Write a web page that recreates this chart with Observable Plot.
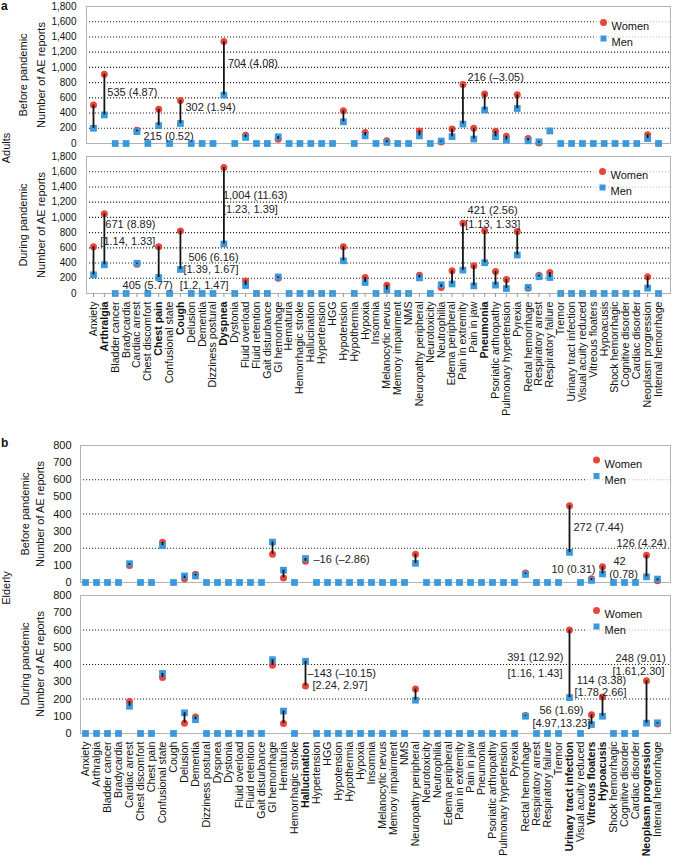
<!DOCTYPE html>
<html><head><meta charset="utf-8">
<script src="https://cdn.jsdelivr.net/npm/d3@7"></script>
<script src="https://cdn.jsdelivr.net/npm/@observablehq/plot@0.6"></script>
<style>
body{margin:0;background:#fff;}
#wrap{position:relative;width:673px;height:858px;font-family:"Liberation Sans",Arial,sans-serif;color:#111;overflow:hidden;background:#fff}
.p{position:absolute;left:0}
.lab{position:absolute;font-size:11px;white-space:nowrap;line-height:1}
.rot{transform:translate(-50%,-50%) rotate(-90deg)}
</style></head><body><div id="wrap"></div>
<script>
const n = null;
const cats = ["Anxiety","Arthralgia","Bladder cancer","Bradycardia","Cardiac arrest","Chest discomfort","Chest pain","Confusional state","Cough","Delusion","Dementia","Dizziness postural","Dyspnea","Dystonia","Fluid overload","Fluid retention","Gait disturbance","GI hemorrhage","Hematuria","Hemorrhagic stroke","Hallucination","Hypertension","HGG","Hypotension","Hypothermia","Hypoxia","Insomnia","Melanocytic nevus","Memory impairment","NMS","Neuropathy peripheral","Neurotoxicity","Neutrophilia","Edema peripheral","Pain in extremity","Pain in jaw","Pneumonia","Psoriatic arthropathy","Pulmonary hypertension","Pyrexia","Rectal hemorrhage","Respiratory arrest","Respiratory failure","Tremor","Urinary tract infection","Visual acuity reduced","Vitreous floaters","Hypoacusis","Shock hemorrhagic","Cognitive disorder","Cardiac disorder","Neoplasm progression","Internal hemorrhage"];

const boldA = ["Arthralgia","Chest pain","Cough","Dyspnea","Pneumonia"];
const boldB = ["Hallucination","Urinary tract infection","Vitreous floaters","Hypoacusis","Neoplasm progression"];

// Panel a (adults)
const womenBeforeA = [505,910,n,n,175,n,450,n,565,n, n,n,1340,n,110,n,n,57,n,n, n,n,n,430,n,145,n,35,n,n, 165,n,20,190,775,200,650,160,95,640, 65,8,n,n,n,n,n,n,n,n, n,115,n];
const menBeforeA   = [200,375,0,0,155,0,235,0,263,0, 0,0,636,0,80,0,0,88,0,0, 0,0,0,285,0,100,0,13,0,0, 100,0,32,90,255,58,440,90,45,460, 35,22,165,0,0,0,0,0,0,0, 0,65,0];
const womenDuringA = [615,1048,n,n,385,n,615,n,822,n, n,n,1655,n,165,n,n,200,n,n, n,n,n,615,n,210,n,110,n,n, 240,n,80,300,922,365,825,290,185,815, 70,240,275,n,n,n,n,n,n,n, n,220,n];
const menDuringA   = [245,377,0,0,398,0,210,0,316,0, 0,0,651,0,105,0,0,218,0,0, 0,0,0,430,0,145,0,45,0,0, 205,0,115,125,307,100,404,110,65,505, 80,220,210,0,0,0,0,0,0,0, 0,70,0];

// Panel b (elderly)
const womenBeforeB = [n,n,n,n,100,n,n,235,n,22, 48,n,n,n,n,n,n,165,27,n, 124,n,n,n,n,n,n,n,n,n, 165,n,n,n,n,n,n,n,n,n, 55,n,n,n,448,n,22,92,n,n, n,159,10];
const menBeforeB   = [0,0,0,0,110,0,0,215,0,38, 38,0,0,0,0,0,0,236,72,0, 140,0,0,0,0,0,0,0,0,0, 112,0,0,0,0,0,0,0,0,0, 47,0,0,0,176,0,12,50,0,0, 0,33,20];
const womenDuringB = [n,n,n,n,185,n,n,325,n,60, 95,n,n,n,n,n,n,395,58,n, 276,n,n,n,n,n,n,n,n,n, 258,n,n,n,n,n,n,n,n,n, 105,n,n,n,600,n,108,212,n,n, n,306,55];
const menDuringB   = [0,0,0,0,158,0,0,348,0,120, 80,0,0,0,0,0,0,428,130,0, 419,0,0,0,0,0,0,0,0,0, 193,0,0,0,0,0,0,0,0,0, 100,0,0,0,208,0,52,100,0,0, 0,60,62];

const ticksA = [0,200,400,600,800,1000,1200,1400,1600,1800];
const gridA = [200,400,600,800,1000,1200,1400,1600];
const ticksB = [0,100,200,300,400,500,600,700,800];
const gridB = [200,400,600];

// annotation texts, anchored to a category and a value
const notesA1 = [
  {cat:"Arthralgia", v:670, text:"535 (4.87)", anchor:"start", dx:3},
  {cat:"Chest pain", v:92, text:"215 (0.52)", anchor:"middle", dx:10},
  {cat:"Cough", v:473, text:"302 (1.94)", anchor:"start", dx:5},
  {cat:"Dyspnea", v:1051, text:"704 (4.08)", anchor:"start", dx:4},
  {cat:"Pneumonia", v:871, text:"216 (\u20133.05)", anchor:"middle", dx:11}
];
const notesA2 = [
  {cat:"Arthralgia", v:903, text:"671 (8.89)", anchor:"start", dx:1},
  {cat:"Arthralgia", v:680, text:"[1.14, 1.33]", anchor:"start", dx:-4},
  {cat:"Chest pain", v:101, text:"405 (5.77)", anchor:"end", dx:14},
  {cat:"Chest pain", v:101, text:"[1.2, 1.47]", anchor:"start", dx:21},
  {cat:"Cough", v:478, text:"506 (6.16)", anchor:"start", dx:8},
  {cat:"Cough", v:320, text:"[1.39, 1.67]", anchor:"start", dx:3},
  {cat:"Dyspnea", v:1284, text:"1,004 (11.63)", anchor:"start", dx:-1},
  {cat:"Dyspnea", v:1100, text:"[1.23, 1.39]", anchor:"start", dx:-1},
  {cat:"Pneumonia", v:1090, text:"421 (2.56)", anchor:"middle", dx:8},
  {cat:"Pneumonia", v:913, text:"[1.13, 1.33]", anchor:"middle", dx:8}
];
const notesB1 = [
  {cat:"Hallucination", v:135, text:"\u201316 (\u20132.86)", anchor:"start", dx:8},
  {cat:"Urinary tract infection", v:322, text:"272 (7.44)", anchor:"start", dx:4},
  {cat:"Vitreous floaters", v:77, text:"10 (0.31)", anchor:"end", dx:4},
  {cat:"Hypoacusis", v:120, text:"42", anchor:"middle", dx:17},
  {cat:"Hypoacusis", v:46, text:"(0.78)", anchor:"middle", dx:21},
  {cat:"Neoplasm progression", v:228, text:"126 (4.24)", anchor:"middle", dx:-5}
];
const notesB2 = [
  {cat:"Hallucination", v:346, text:"\u2013143 (\u201310.15)", anchor:"start", dx:2},
  {cat:"Hallucination", v:276, text:"[2.24, 2.97]", anchor:"start", dx:7},
  {cat:"Urinary tract infection", v:441, text:"391 (12.92)", anchor:"end", dx:-6},
  {cat:"Urinary tract infection", v:348, text:"[1.16, 1.43]", anchor:"end", dx:-7},
  {cat:"Hypoacusis", v:306, text:"114 (3.38)", anchor:"middle", dx:-1},
  {cat:"Hypoacusis", v:235, text:"[1.78,2.66]", anchor:"middle", dx:-2},
  {cat:"Vitreous floaters", v:132, text:"56 (1.69)", anchor:"end", dx:-8},
  {cat:"Vitreous floaters", v:60, text:"[4.97,13.23]", anchor:"end", dx:-1},
  {cat:"Neoplasm progression", v:437, text:"248 (9.01)", anchor:"middle", dx:-6},
  {cat:"Neoplasm progression", v:360, text:"[1.61,2.30]", anchor:"middle", dx:-8}
];

const RED = "#e8463b", BLUE = "#3a98db";
const fmt = d3.format(",");

function panel(o) {
  const rows = cats.map((c, i) => ({cat: c, w: o.women[i], m: o.men[i]}));
  const paired = rows.filter(d => d.w != null);
  const legendBox = (index, scales, values, dims) => {
    const right = dims.width - dims.marginRight;
    const x0 = right + o.legDx - 9;
    return d3.create("svg:rect")
      .attr("x", x0).attr("y", dims.marginTop + o.legDy - 8)
      .attr("width", right - x0 - 1).attr("height", 33)
      .attr("fill", "white").attr("fill-opacity", 0.7).node();
  };
  const marks = [
    Plot.ruleY(o.grid, {y: d => d, stroke: "#222", strokeWidth: 1.1, strokeDasharray: "1.1,1.9"}),
    legendBox,
    Plot.frame({stroke: "#b3b3b3"}),
    Plot.axisY({ticks: o.ticks, tickFormat: fmt, tickSize: 0, tickPadding: o.tickPad, fontSize: o.tickFont, label: null}),
    Plot.dot(paired, {x: "cat", y: "w", r: 3.5, fill: RED}),
    Plot.dot(rows, {x: "cat", y: "m", symbol: "square", r: 3.8, fill: BLUE}),
    Plot.ruleX(paired, {x: "cat", y1: "m", y2: "w", stroke: "#151515", strokeWidth: 1.8}),
    ...o.notes.map(a => Plot.text([a], {x: "cat", y: "v", text: "text", textAnchor: a.anchor, dx: a.dx, fontSize: 11, fill: "#222"})),
    Plot.dot(["Women"], {frameAnchor: "top-right", dx: o.legDx, dy: o.legDy, r: 3.5, fill: RED}),
    Plot.dot(["Men"], {frameAnchor: "top-right", dx: o.legDx, dy: o.legDy + 16, r: 3.4, symbol: "square", fill: BLUE}),
    Plot.text(["Women"], {text: d => d, frameAnchor: "top-right", dx: o.legDx + 8, dy: o.legDy, textAnchor: "start", fontSize: 11}),
    Plot.text(["Men"], {text: d => d, frameAnchor: "top-right", dx: o.legDx + 8, dy: o.legDy + 16, textAnchor: "start", fontSize: 11})
  ];
  if (o.xAxis) {
    const common = {tickRotate: -90, tickSize: o.xTickSize, tickPadding: o.xTickPad, fontSize: 10.6, label: null, stroke: "#999", textAnchor: "end", lineAnchor: "middle"};
    marks.push(Plot.axisX({...common, ticks: cats.filter(c => !o.bold.includes(c))}));
    marks.push(Plot.axisX({...common, ticks: o.bold, fontWeight: "bold"}));
  }
  return Plot.plot({
    width: 673, height: o.height,
    marginTop: o.mt, marginBottom: o.mb, marginLeft: o.ml, marginRight: 3,
    x: {type: "point", domain: cats, padding: 0, insetLeft: o.insL, insetRight: o.insR, label: null, ...(o.xAxis ? {} : {axis: null})},
    y: {domain: [0, o.ymax], label: null, axis: null},
    style: {fontFamily: '"Liberation Sans", Arial, sans-serif', fontSize: "11px", background: "transparent", color: "#111", overflow: "visible"},
    marks
  });
}

const wrap = document.getElementById("wrap");
function place(svg, top) {
  const d = document.createElement("div");
  d.className = "p"; d.style.top = top + "px";
  d.appendChild(svg); wrap.appendChild(d);
}
const A = {ymax: 1800, ticks: ticksA, grid: gridA, ml: 86, insL: 7, insR: 12, tickPad: 10, tickFont: 10, bold: boldA, xTickSize: 4, xTickPad: 4};
const B = {ymax: 800, ticks: ticksB, grid: gridB, ml: 80, insL: 5, insR: 13, tickPad: 9, tickFont: 11, bold: boldB, xTickSize: 0, xTickPad: 8};

place(panel({...A, women: womenBeforeA, men: menBeforeA, notes: notesA1, height: 150, mt: 6, mb: 7, legDx: -67, legDy: 16, xAxis: false}), 0);
place(panel({...A, women: womenDuringA, men: menDuringA, notes: notesA2, height: 290, mt: 6, mb: 147, legDx: -68, legDy: 15, xAxis: true}), 150);
place(panel({...B, women: womenBeforeB, men: menBeforeB, notes: notesB1, height: 150, mt: 5, mb: 8, legDx: -74, legDy: 14.5, xAxis: false}), 440);
place(panel({...B, women: womenDuringB, men: menDuringB, notes: notesB2, height: 268, mt: 5, mb: 125, legDx: -74, legDy: 15, xAxis: true}), 590);

function label(text, css, cls) {
  const d = document.createElement("div");
  d.className = "lab" + (cls ? " " + cls : "");
  d.textContent = text;
  Object.assign(d.style, css);
  wrap.appendChild(d);
}
label("a", {left: "1px", top: "0px", fontWeight: "bold", fontSize: "12px"});
label("b", {left: "1px", top: "437px", fontWeight: "bold", fontSize: "12px"});
label("Adults", {left: "6px", top: "148px"}, "rot");
label("Elderly", {left: "6px", top: "588px"}, "rot");
// y-axis titles
label("Before pandemic", {left: "23px", top: "75px"}, "rot");
label("Number of AE reports", {left: "41px", top: "75px"}, "rot");
label("During pandemic", {left: "23px", top: "225px"}, "rot");
label("Number of AE reports", {left: "41px", top: "225px"}, "rot");
label("Before pandemic", {left: "25px", top: "514px"}, "rot");
label("Number of AE reports", {left: "40px", top: "514px"}, "rot");
label("During pandemic", {left: "25px", top: "664px"}, "rot");
label("Number of AE reports", {left: "40px", top: "664px"}, "rot");
</script></body></html>
